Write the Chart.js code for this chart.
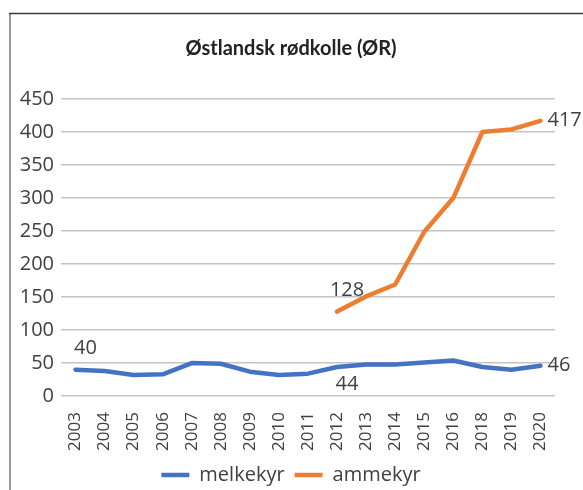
<!DOCTYPE html>
<html>
<head>
<meta charset="utf-8">
<script src="https://cdn.jsdelivr.net/npm/chart.js@4.4.0/dist/chart.umd.min.js"></script>
<style>
  html, body { margin: 0; padding: 0; background: #fff; }
  #wrap { width: 583px; height: 490px; }
</style>
</head>
<body>
<div id="wrap"><canvas id="chart" width="583" height="490"></canvas></div>
<script>
// data
const years = ['2003', '2004', '2005', '2006', '2007', '2008', '2009', '2010', '2011',
               '2012', '2013', '2014', '2015', '2016', '2018', '2019', '2020'];
const melkekyr = [40, 38, 32, 33, 50, 49, 37, 32, 34, 44, 48, 48, 51, 54, 44, 40, 46];
const ammekyr = [null, null, null, null, null, null, null, null, null,
                 128, 151, 169, 249, 300, 400, 404, 417];
const yTicks = [0, 50, 100, 150, 200, 250, 300, 350, 400, 450];

// which points carry a value label, and where
const melkekyrLabels = [{ i: 0, pos: 'above' }, { i: 9, pos: 'below' }, { i: 16, pos: 'right' }];
const ammekyrLabels = [{ i: 9, pos: 'above' }, { i: 16, pos: 'right' }];

const BLUE = '#4472C4';
const ORANGE = '#ED7D31';
const TEXT = '#404040';
const FONT = "'Open Sans', 'Liberation Sans', sans-serif";

// frame lines like the cropped chart border
const framePlugin = {
    id: 'frame',
    beforeDraw(chart) {
        const c = chart.ctx;
        c.save();
        c.fillStyle = '#fff';
        c.fillRect(0, 0, chart.width, chart.height);
        c.strokeStyle = '#9a9a9a';
        c.lineWidth = 2;
        c.beginPath();
        c.moveTo(10, 13);
        c.lineTo(10, chart.height);
        c.stroke();
        c.strokeStyle = '#3a3a3a';
        c.lineWidth = 1.5;
        c.beginPath();
        c.moveTo(9, 13.5);
        c.lineTo(chart.width, 13.5);
        c.stroke();
        c.restore();
    }
};

// center title and legend on the whole frame instead of the padded box
const nudgeBoxes = {
    id: 'nudgeBoxes',
    afterLayout(chart) {
        chart.titleBlock.left += 18;
        chart.legend.left += 18;
        chart.legend.top -= 4;
        chart.legend.bottom -= 4;
    }
};

// value labels next to selected points
const valueLabels = {
    id: 'valueLabels',
    afterDatasetsDraw(chart) {
        const c = chart.ctx;
        c.save();
        c.font = '20px ' + FONT;
        c.fillStyle = TEXT;
        c.textBaseline = 'middle';
        [melkekyrLabels, ammekyrLabels].forEach((list, d) => {
            const meta = chart.getDatasetMeta(d);
            const values = chart.data.datasets[d].data;
            list.forEach(l => {
                const p = meta.data[l.i];
                const txt = String(values[l.i]);
                if (l.pos === 'right') {
                    c.textAlign = 'left';
                    c.fillText(txt, p.x + 7, p.y);
                } else if (l.pos === 'above') {
                    c.textAlign = 'center';
                    c.fillText(txt, p.x + 10, p.y - 21);
                } else {
                    c.textAlign = 'center';
                    c.fillText(txt, p.x + 10, p.y + 17);
                }
            });
        });
        c.restore();
    }
};

const lineStyle = {
    borderWidth: 4.5,
    pointRadius: 0,
    pointHoverRadius: 0,
    tension: 0,
    borderCapStyle: 'round',
    borderJoinStyle: 'round',
    spanGaps: false
};

new Chart(document.getElementById('chart').getContext('2d'), {
    type: 'line',
    data: {
        labels: years,
        datasets: [
            Object.assign({ label: 'melkekyr', data: melkekyr, borderColor: BLUE, backgroundColor: BLUE }, lineStyle),
            Object.assign({ label: 'ammekyr', data: ammekyr, borderColor: ORANGE, backgroundColor: ORANGE }, lineStyle)
        ]
    },
    options: {
        responsive: false,
        animation: false,
        layout: { padding: { left: 9, right: 28, top: 0, bottom: -9 } },
        plugins: {
            tooltip: { enabled: false },
            title: {
                display: true,
                text: 'Østlandsk rødkolle (ØR)',
                color: '#222',
                font: { family: "Lato, 'Open Sans', sans-serif", size: 20, weight: 'bold' },
                padding: { top: 37, bottom: 38 }
            },
            legend: {
                position: 'bottom',
                labels: {
                    usePointStyle: true,
                    pointStyle: 'line',
                    pointStyleWidth: 28,
                    color: TEXT,
                    font: { family: FONT, size: 20 },
                    padding: 10
                }
            }
        },
        scales: {
            x: {
                offset: true,
                grid: { display: false },
                border: { display: false },
                ticks: {
                    color: TEXT,
                    font: { family: FONT, size: 17 },
                    minRotation: 90,
                    maxRotation: 90,
                    autoSkip: false,
                    padding: 8
                }
            },
            y: {
                min: 0,
                max: 450,
                border: { display: false },
                grid: { color: '#c4c4c4', lineWidth: 1.5, drawTicks: false },
                afterBuildTicks(scale) {
                    scale.ticks = yTicks.map(v => ({ value: v }));
                },
                afterFit(scale) {
                    scale.width = 52;
                },
                ticks: {
                    color: TEXT,
                    font: { family: FONT, size: 20 },
                    padding: 7
                }
            }
        }
    },
    plugins: [framePlugin, nudgeBoxes, valueLabels]
});
</script>
</body>
</html>
